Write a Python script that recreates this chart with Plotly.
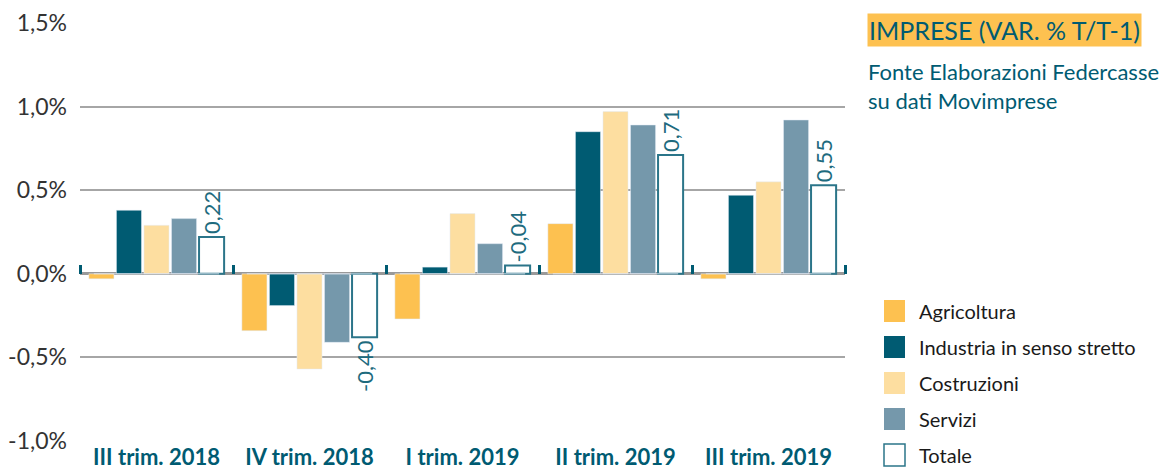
import plotly.graph_objects as go

categories = ["III trim. 2018", "IV trim. 2018", "I trim. 2019", "II trim. 2019", "III trim. 2019"]
agricoltura = [-0.03, -0.34, -0.27, 0.30, -0.03]
industria = [0.38, -0.19, 0.04, 0.85, 0.47]
costruzioni = [0.29, -0.57, 0.36, 0.97, 0.55]
servizi = [0.33, -0.41, 0.18, 0.89, 0.92]
totale = [0.22, -0.38, 0.05, 0.71, 0.53]
totale_labels = ["0,22", "-0,40", "-0,04", "0,71", "0,55"]
series_names = ["Agricoltura", "Industria in senso stretto", "Costruzioni", "Servizi", "Totale"]
y_tickvals = [-1.0, -0.5, 0.0, 0.5, 1.0, 1.5]
y_ticktext = ["-1,0%", "-0,5%", "0,0%", "0,5%", "1,0%", "1,5%"]

C_AGR = "#FDC150"
C_IND = "#005B72"
C_COS = "#FDDEA0"
C_SER = "#7598AB"
C_TOT_LINE = "#2B7589"
TEAL = "#005B72"
FONT = "Lato"

# the page body adds an 8px offset; size the figure to fill the rest of the window
OFF = 8
W, H = 1170 - OFF, 470 - OFF
# plot area in window pixels
L, R, T, B = 80, 845, 23, 441


def px(x):
    return (x - L) / (R - L)


def py(y):
    return (B - y) / (B - T)


fig = go.Figure()
fig.add_trace(go.Bar(x=categories, y=agricoltura, name=series_names[0], marker_color=C_AGR))
fig.add_trace(go.Bar(x=categories, y=industria, name=series_names[1], marker_color=C_IND))
fig.add_trace(go.Bar(x=categories, y=costruzioni, name=series_names[2], marker_color=C_COS))
fig.add_trace(go.Bar(x=categories, y=servizi, name=series_names[3], marker_color=C_SER))
fig.add_trace(go.Bar(
    x=categories, y=totale, name=series_names[4],
    marker=dict(color="white", line=dict(color=C_TOT_LINE, width=2)),
    text=totale_labels, textposition="outside", textangle=-90,
    constraintext="none", cliponaxis=False,
    outsidetextfont=dict(family=FONT, size=22, color="#1E6B7E"),
))
# invisible trace to drive the tick marks on the zero axis
fig.add_trace(go.Bar(x=categories, y=[0] * len(categories), xaxis="x2",
                     showlegend=False, hoverinfo="skip", marker_color="rgba(0,0,0,0)"))

fig.update_layout(
    width=W, height=H,
    margin=dict(l=L - OFF, r=(W + OFF) - R, t=T - OFF, b=(H + OFF) - B),
    paper_bgcolor="white", plot_bgcolor="white",
    barmode="group", bargap=0.1, bargroupgap=0.09,
    showlegend=False,
    font=dict(family=FONT),
    yaxis=dict(
        range=[-1.0, 1.5], tickvals=y_tickvals, ticktext=y_ticktext,
        showgrid=True, gridcolor="#a6a6a6", gridwidth=1.5,
        zeroline=True, zerolinecolor="#999999", zerolinewidth=3,
        tickfont=dict(family=FONT, size=23, color="#333333"),
        ticklabelstandoff=12, fixedrange=True, automargin=False,
    ),
    xaxis=dict(
        type="category", showgrid=False, showline=False, ticks="",
        tickfont=dict(family=FONT, size=22, color=TEAL, weight="bold"),
        ticklabelstandoff=1, automargin=False,
    ),
    xaxis2=dict(
        type="category", overlaying="x", matches="x", anchor="free", position=py(274),
        side="top", ticks="outside", tickson="boundaries", ticklen=9, tickwidth=3,
        tickcolor=TEAL, showticklabels=False, showgrid=False, showline=False,
        automargin=False,
    ),
)

# title block
fig.add_annotation(
    text="IMPRESE (VAR. % T/T-1)", xref="paper", yref="paper",
    x=px(867), y=py(30), xanchor="left", yanchor="middle", showarrow=False,
    font=dict(family=FONT, size=25, color=TEAL), bgcolor=C_AGR, borderpad=1,
)
fig.add_annotation(
    text="Fonte Elaborazioni Federcasse<br>su dati Movimprese", xref="paper", yref="paper",
    x=px(866), y=py(56), xanchor="left", yanchor="top", showarrow=False, align="left",
    font=dict(family=FONT, size=22, color=TEAL),
)

# legend (manual)
legend_colors = [C_AGR, C_IND, C_COS, C_SER, "white"]
for i, (nm, col) in enumerate(zip(series_names, legend_colors)):
    yc = 311 + 36 * i
    fig.add_shape(
        type="rect", xref="paper", yref="paper",
        x0=px(884), x1=px(905), y0=py(yc - 11), y1=py(yc + 11),
        fillcolor=col,
        line=dict(color=C_TOT_LINE if col == "white" else col, width=1.5 if col == "white" else 0),
    )
    fig.add_annotation(
        text=nm, xref="paper", yref="paper", x=px(917), y=py(yc),
        xanchor="left", yanchor="middle", showarrow=False,
        font=dict(family=FONT, size=20, color="#1a1a1a"),
    )

fig.write_html("out.html")
